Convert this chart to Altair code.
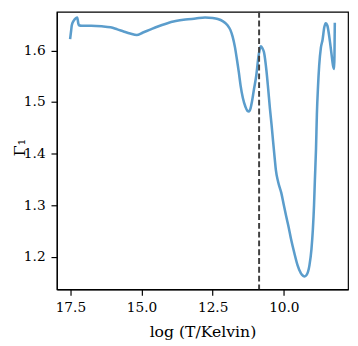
import altair as alt
import pandas as pd

log_t = [17.51, 17.47, 17.45, 17.38, 17.30, 17.26, 17.22, 17.20, 17.10, 16.77,
         16.40, 16.09, 15.85, 15.63, 15.40, 15.17, 14.95, 14.72, 14.45, 14.14,
         13.80, 13.46, 13.10, 12.77, 12.50, 12.32, 12.15, 11.98, 11.88, 11.80,
         11.72, 11.65, 11.58, 11.52, 11.44, 11.35, 11.28, 11.23, 11.17, 11.12,
         11.05, 10.97, 10.89, 10.84, 10.81, 10.76, 10.70, 10.61, 10.55, 10.49,
         10.43, 10.38, 10.32, 10.28, 10.20, 10.09, 10.00, 9.92, 9.83, 9.75,
         9.63, 9.52, 9.40, 9.32, 9.27, 9.20, 9.10, 9.03, 8.98, 8.94,
         8.91, 8.87, 8.84, 8.80, 8.76, 8.70, 8.64, 8.58, 8.53, 8.47,
         8.40, 8.33, 8.27, 8.23, 8.22, 8.21]
gamma1 = [1.622, 1.640, 1.649, 1.658, 1.663, 1.664, 1.652, 1.649, 1.648, 1.648,
          1.647, 1.645, 1.641, 1.637, 1.633, 1.630, 1.635, 1.640, 1.646, 1.652,
          1.657, 1.660, 1.662, 1.664, 1.663, 1.661, 1.657, 1.649, 1.640, 1.627,
          1.607, 1.583, 1.557, 1.532, 1.508, 1.491, 1.483, 1.482, 1.488, 1.501,
          1.525, 1.551, 1.589, 1.604, 1.608, 1.605, 1.597, 1.560, 1.525, 1.488,
          1.455, 1.425, 1.390, 1.368, 1.345, 1.324, 1.300, 1.279, 1.257, 1.235,
          1.207, 1.184, 1.168, 1.163, 1.162, 1.165, 1.184, 1.215, 1.254, 1.300,
          1.349, 1.410, 1.476, 1.530, 1.570, 1.605, 1.621, 1.645, 1.653, 1.648,
          1.625, 1.595, 1.570, 1.564, 1.600, 1.654]
x_ticks = [17.5, 15.0, 12.5, 10.0]
y_ticks = [1.2, 1.3, 1.4, 1.5, 1.6]
vline_x = [10.87]

df = pd.DataFrame({"logT": log_t, "G": gamma1, "i": list(range(len(log_t)))})
dv = pd.DataFrame({"x": vline_x})

FONT = "DejaVu Serif"
common = dict(grid=False, tickSize=6, labelPadding=6, format=".1f",
              labelFont=FONT, titleFont=FONT, labelFontSize=14,
              titleFontSize=16, titleFontWeight="normal",
              domainColor="black", tickColor="black", labelColor="black",
              titleColor="black", domainWidth=1.2, tickWidth=1.2)

xscale = alt.Scale(domain=[7.745, 17.975], reverse=True, nice=False, zero=False)
yscale = alt.Scale(domain=[1.137, 1.675], nice=False, zero=False)

line = alt.Chart(df).mark_line(
    color="#5b9dcc", strokeWidth=2.6, interpolate="monotone"
).encode(
    x=alt.X("logT:Q", scale=xscale,
            axis=alt.Axis(values=x_ticks, title="log (T/Kelvin)",
                          titlePadding=9, **common)),
    y=alt.Y("G:Q", scale=yscale,
            axis=alt.Axis(values=y_ticks, title="Γ₁",
                          titleX=-38, titleY=138.5, titleBaseline="middle",
                          **common)),
    order="i:Q",
)

vline = alt.Chart(dv).mark_rule(
    color="#404040", strokeWidth=2, strokeDash=[6, 3]
).encode(x=alt.X("x:Q", scale=xscale))

chart = alt.layer(line, vline).properties(
    width=298, height=284,
    autosize=alt.AutoSizeParams(type="none"),
    padding={"left": 50, "top": 0, "right": 2, "bottom": 50},
).configure_view(
    stroke="black", strokeWidth=1.2
)

chart.save("out.html", embed_options={"renderer": "svg", "actions": False})
